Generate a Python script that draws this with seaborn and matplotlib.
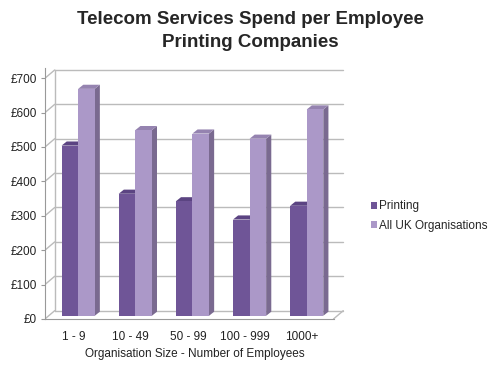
import numpy as np
import pandas as pd
import seaborn as sns
import matplotlib.pyplot as plt
from matplotlib.patches import Polygon

sizes = ['1 - 9', '10 - 49', '50 - 99', '100 - 999', '1000+']
printing = [495, 355, 333, 280, 320]
all_uk = [660, 540, 530, 515, 600]
series = ['Printing', 'All UK Organisations']
colors = ['#6F5597', '#AB98C8']
side_colors = ['#4E3A70', '#7A6A90']
top_colors = ['#5B4482', '#9583B0']

df = pd.DataFrame({
    'size': sizes * 2,
    'spend': printing + all_uk,
    'series': [series[0]] * len(sizes) + [series[1]] * len(sizes),
})

sns.set_style('white')
plt.rcParams['font.family'] = ['Liberation Sans', 'DejaVu Sans']

fig = plt.figure(figsize=(5, 3.73), dpi=100)
ax = fig.add_axes([0.09, 0.145, 0.6, 0.673])

ax = sns.barplot(data=df, x='size', y='spend', hue='series', palette=colors,
                 width=0.58, saturation=1, linewidth=0, ax=ax, zorder=3)

# fake 3D depth on each bar, bars sit a little back from the front floor edge
dx, dy = 0.09, 12
shift_x, shift_y = 0.08, 9
for i, cont in enumerate(ax.containers):
    for bar in cont:
        bar.set_x(bar.get_x() + shift_x)
        bar.set_y(shift_y)
        x0, w, h = bar.get_x(), bar.get_width(), bar.get_height()
        y0, y1 = shift_y, shift_y + h
        ax.add_patch(Polygon([(x0 + w, y0), (x0 + w + dx, y0 + dy), (x0 + w + dx, y1 + dy), (x0 + w, y1)],
                             closed=True, color=side_colors[i], zorder=2 + i * 0.1, lw=0))
        ax.add_patch(Polygon([(x0, y1), (x0 + dx, y1 + dy), (x0 + w + dx, y1 + dy), (x0 + w, y1)],
                             closed=True, color=top_colors[i], zorder=2 + i * 0.1, lw=0))

# back wall gridlines
ticks = np.arange(0, 701, 100)
x_lo, x_hi = -0.5, 4.55
bx, by = 0.17, 24
for t in ticks:
    ax.plot([x_lo + bx, x_hi + bx], [t + by, t + by], color='#BBBBBB', lw=1, zorder=1)
    ax.plot([x_lo, x_lo + bx], [t, t + by], color='#BBBBBB', lw=1, zorder=1)
ax.plot([x_lo + bx, x_lo + bx], [by, 700 + by], color='#BBBBBB', lw=1, zorder=1)
ax.plot([x_hi, x_hi + bx], [0, by], color='#BBBBBB', lw=1, zorder=1)

ax.set_xlim(x_lo, x_hi + 0.2)
ax.set_ylim(0, 730)
ax.set_yticks(ticks)
ax.set_yticklabels(['£{}'.format(t) for t in ticks], fontsize=8.5, color='#222222')
ax.tick_params(axis='x', labelsize=8.5, colors='#222222', length=0, pad=9)
ax.tick_params(axis='y', length=3, color='#999999', left=True, pad=3)
for s in ['top', 'right']:
    ax.spines[s].set_visible(False)
ax.spines['left'].set_color('#999999')
ax.spines['bottom'].set_color('#999999')
ax.spines['bottom'].set_bounds(x_lo, x_hi)
ax.set_xlabel('Organisation Size - Number of Employees', fontsize=8.5, color='#222222', labelpad=3)
ax.set_ylabel('')

ax.legend(title=None, frameon=False, loc='center left', bbox_to_anchor=(1.05, 0.41),
          fontsize=8.5, handlelength=0.5, handleheight=0.5, handletextpad=0.25, labelspacing=0.6)

fig.text(0.5, 0.917, 'Telecom Services Spend per Employee\nPrinting Companies',
         ha='center', va='center', fontsize=13.5, fontweight='bold', linespacing=1.5)

fig.savefig('out.png', dpi=100)
